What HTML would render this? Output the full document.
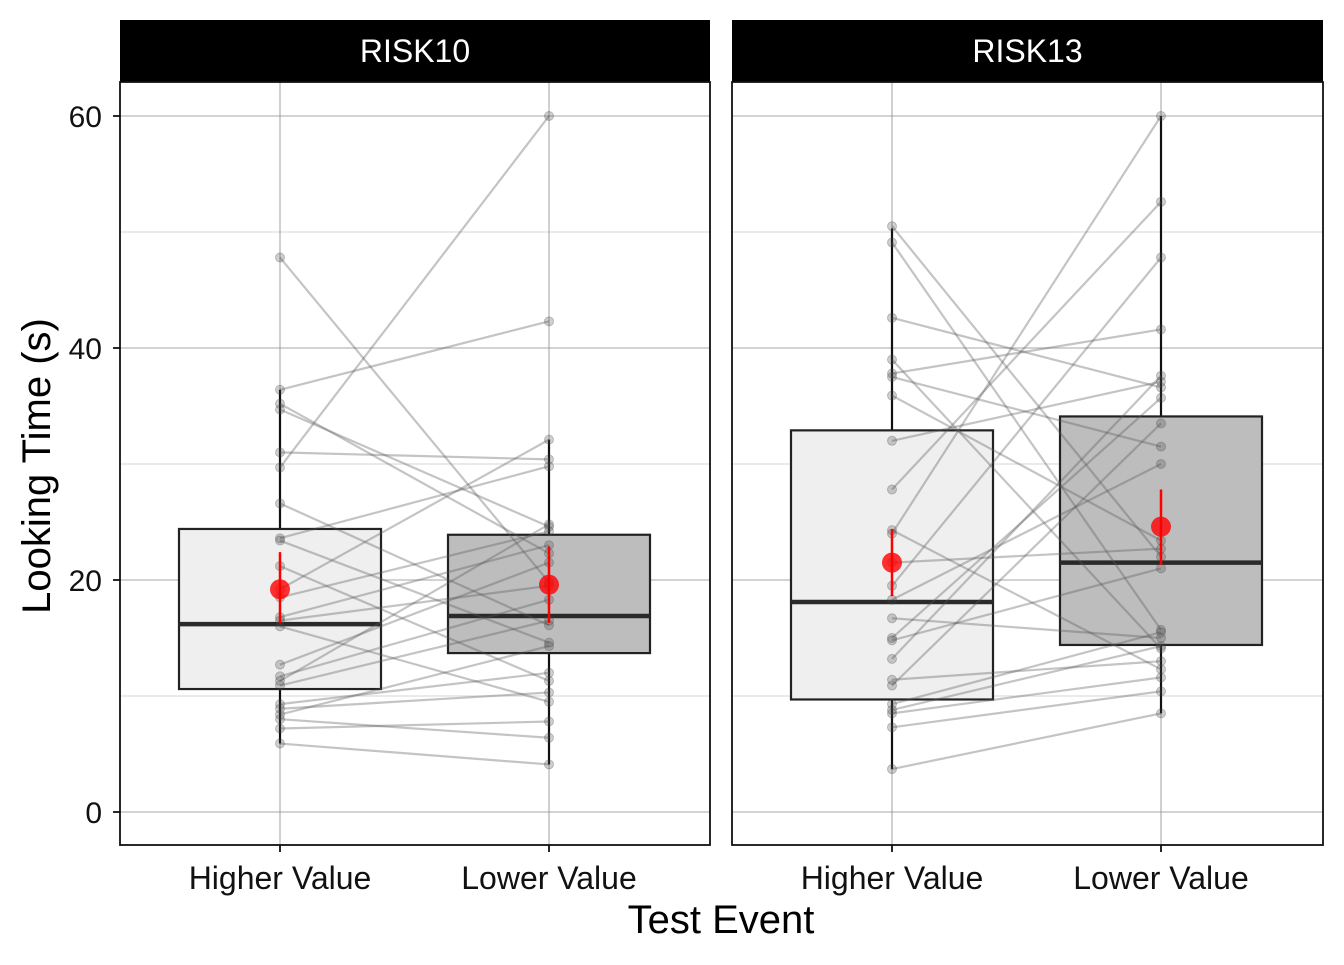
<!DOCTYPE html>
<html><head><meta charset="utf-8"><style>
body{margin:0;background:#fff}
svg text{font-family:"Liberation Sans",Arial,sans-serif}
</style></head><body>
<svg id="chart" width="1344" height="960" xmlns="http://www.w3.org/2000/svg"></svg>
<script>
const panels = ["RISK10","RISK13"];
const categories = ["Higher Value","Lower Value"];
const yTicks = [0,20,40,60];
const yMinor = [10,30,50];
// box stats per panel per category: [lowWhisker,q1,median,q3,highWhisker]
const boxR10 = [[5.9,10.6,16.2,24.4,36.4],[4.1,13.7,16.9,23.9,32.1]];
const boxR13 = [[3.7,9.7,18.1,32.9,50.3],[8.5,14.4,21.5,34.1,60]];
// mean, ciLow, ciHigh
const meanR10 = [[19.2,16.3,22.4],[19.6,16.3,22.9]];
const meanR13 = [[21.5,18.6,24.4],[24.6,21.3,27.8]];
// paired observations
const r10Higher = [47.8,36.4,35.2,34.7,31,29.7,26.6,23.6,23.4,21.2,19.2,18.5,16.8,16.5,16,12.7,11.7,11.3,10.9,9.3,8.9,8.4,8,7.2,5.9];
const r10Lower  = [19.8,42.3,22.3,24.6,30.4,60,16.1,29.8,14.6,11.3,32.1,24.2,23,19.5,9.5,21.5,18.3,24.8,16.5,12,10.3,14.3,6.4,7.8,4.1];
const r13Higher = [50.5,49.1,42.6,39,37.8,37.5,35.9,32,27.8,24.3,24,21.5,19.5,18.3,16.7,15,14.8,13.2,11.4,10.9,9.3,8.8,8.5,7.3,3.7];
const r13Lower  = [22,15.7,36.6,14.1,41.6,31.5,23.4,37.1,52.6,12.3,60,22.7,47.8,30,15,35.7,21,37.6,13,33.5,15.5,14.3,11.6,10.4,8.5];

const S="http://www.w3.org/2000/svg";
const svg=document.getElementById('chart');
function el(t,a,p){const e=document.createElementNS(S,t);for(const k in a)e.setAttribute(k,a[k]);(p||svg).appendChild(e);return e;}
const plotTop=82,plotBot=845;
const y=v=>812-v*(696/60);
const panelX=[[120,710],[732,1323]];
const boxes=[boxR10,boxR13], means=[meanR10,meanR13];
const pairs=[[r10Higher,r10Lower],[r13Higher,r13Lower]];

panels.forEach((name,pi)=>{
  const [x0,x1]=panelX[pi];
  const xc=i=>x0+160+i*269;
  const g=el('g',{});
  
  
  yMinor.forEach(v=>el('line',{x1:x0,x2:x1,y1:y(v),y2:y(v),stroke:'#c8c8c8','stroke-width':0.8},g));
  yTicks.forEach(v=>el('line',{x1:x0,x2:x1,y1:y(v),y2:y(v),stroke:'#8a8a8a','stroke-width':0.8},g));
  categories.forEach((c,i)=>el('line',{x1:xc(i),x2:xc(i),y1:plotTop,y2:plotBot,stroke:'#8a8a8a','stroke-width':0.8},g));
  const st=el('rect',{x:x0,y:20,width:x1-x0,height:62,fill:'#000'},g);
  
  
  const tt=el('text',{x:(x0+x1)/2,y:62,'text-anchor':'middle','font-size':32,fill:'#fff'},g);tt.textContent=name;
  categories.forEach((c,i)=>{
    const b=boxes[pi][i], x=xc(i);
    el('line',{x1:x,x2:x,y1:y(b[0]),y2:y(b[4]),stroke:'#111','stroke-width':2.2},g);
    const r=el('rect',{x:x-101,y:y(b[3]),width:202,height:y(b[1])-y(b[3]),fill:i==0?'#efefef':'#bdbdbd',stroke:'#222','stroke-width':2.2},g);
    
    
    el('line',{x1:x-101,x2:x+101,y1:y(b[2]),y2:y(b[2]),stroke:'#2a2a2a','stroke-width':4.5},g);
  });
  const [h,l]=pairs[pi];
  h.forEach((v,k)=>{
    const ln=el('line',{x1:xc(0),y1:y(v),x2:xc(1),y2:y(l[k]),stroke:'#555','stroke-opacity':0.35,'stroke-width':2.2},g);
    
    
    el('circle',{cx:xc(0),cy:y(v),r:4.5,fill:'#444','fill-opacity':0.25,stroke:'#444','stroke-opacity':0.3},g);
    el('circle',{cx:xc(1),cy:y(l[k]),r:4.5,fill:'#444','fill-opacity':0.25,stroke:'#444','stroke-opacity':0.3},g);
  });
  categories.forEach((c,i)=>{
    const m=means[pi][i], x=xc(i);
    el('line',{x1:x,x2:x,y1:y(m[1]),y2:y(m[2]),stroke:'#f00','stroke-width':2.5},g);
    const mc=el('circle',{cx:x,cy:y(m[0]),r:10,fill:'#f00','fill-opacity':0.8},g);
    
    
  });
  el('rect',{x:x0,y:plotTop,width:x1-x0,height:plotBot-plotTop,fill:'none',stroke:'#111','stroke-width':1.8},g);
  categories.forEach((c,i)=>{
    el('line',{x1:xc(i),x2:xc(i),y1:plotBot,y2:plotBot+7,stroke:'#111','stroke-width':1.8},g);
    const t=el('text',{x:xc(i),y:889,'text-anchor':'middle','font-size':32,fill:'#111'},g);t.textContent=c;
  });
});
yTicks.forEach(v=>{
  el('line',{x1:113,x2:120,y1:y(v),y2:y(v),stroke:'#111','stroke-width':1.8});
  const t=el('text',{x:102,y:y(v)+11,'text-anchor':'end','font-size':30,fill:'#111'});t.textContent=v;
});
const yt=el('text',{x:0,y:0,'text-anchor':'middle','font-size':40,fill:'#000',transform:'translate(50,466) rotate(-90)'});
yt.textContent='Looking Time (s)';
const xt=el('text',{x:721,y:933,'text-anchor':'middle','font-size':40,fill:'#000'});
xt.textContent='Test Event';
</script>
</body></html>
